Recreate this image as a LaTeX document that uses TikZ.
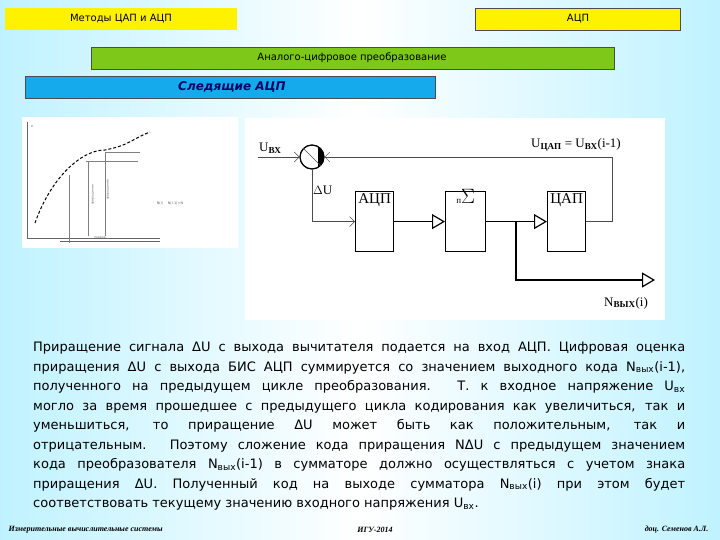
\documentclass[tikz,border=0pt]{standalone}
\usepackage{fontspec}
\setmainfont{DejaVu Sans}
\newfontfamily\serfont{Liberation Serif}
\usetikzlibrary{arrows.meta}
\definecolor{hgreen}{RGB}{125,200,25}
\definecolor{hblue}{RGB}{20,170,235}
\begin{document}
\begin{tikzpicture}[x=1pt,y=-1pt,
  blk/.style={draw,line width=1.2pt,fill=white,minimum width=38pt,minimum height=60pt,anchor=north west,inner sep=0pt},
  thin/.style={draw=black!70,line width=0.5pt},
  thick/.style={line width=1.6pt},
  tri/.style={-{Triangle[open,length=13pt,width=15pt,line width=1.2pt]}},
  lbl/.style={font=\serfont\fontsize{13}{13}\selectfont,inner sep=1pt},
  blbl/.style={font=\serfont\fontsize{15}{15}\selectfont,inner sep=2pt}]
\useasboundingbox (0,0) rectangle (720,540);
\shade[left color=blue!20!cyan!25,right color=blue!20!cyan!25,middle color=white] (0,0) rectangle (720,540);
% headers
\fill[yellow] (5,8) rectangle (237,30);
\node[font=\fontsize{10}{10}\selectfont] (h1) at (121,19) {Методы ЦАП и АЦП};
\filldraw[fill=yellow,draw=black!70] (475,8) rectangle (680,30);
\node[font=\fontsize{10}{10}\selectfont] (h2) at (578,19) {АЦП};
\filldraw[fill=hgreen,draw=black!70] (91,47) rectangle (614,69);
\node[font=\fontsize{10}{10}\selectfont] (h3) at (352,58) {Аналого-цифровое преобразование};
\filldraw[fill=hblue,draw=black!70] (25,76) rectangle (435,98);
\node[font=\bfseries\itshape\fontsize{12}{12}\selectfont,text=blue!40!black] (h4) at (232,87) {Следящие АЦП};
% left graph
\fill[white] (22,117) rectangle (238,248);
\draw[black!60,line width=0.4pt] (27,122) -- (27,238) -- (160,238);
\draw[black!60,line width=0.4pt] (60,241) -- (160,241);
\draw[line width=1pt,densely dashed] (35,223) .. controls (50,180) and (80,150) .. (105,150) .. controls (130,145) and (130,140) .. (150,132);
\draw[black!50,line width=0.4pt] (105,152) -- (140,152) (86,161) -- (138,161);
\draw[black!50,line width=0.4pt] (69,175) -- (69,243) (105,152) -- (105,236) (88,161) -- (88,236);
\node[font=\fontsize{3}{3}\selectfont,text=black!60] (g1) at (32,126) {U};
\node[font=\fontsize{3.5}{3.5}\selectfont,text=black!60] (g2) at (170,203) {N(i) \quad N(i-1)+N};
\node[font=\fontsize{3}{3}\selectfont,text=black!60,rotate=90] (g3) at (93,195) {приращение};
\node[font=\fontsize{3}{3}\selectfont,text=black!60,rotate=90] (g4) at (108,190) {приращение};
\node[font=\fontsize{3}{3}\selectfont,text=black!60] (g5) at (100,238) {период};
% right diagram
\fill[white] (245,118) rectangle (665,320);
\node[draw,circle,minimum size=24pt,line width=1pt,fill=white] (sum) at (312,157) {};
\begin{scope}
\clip (sum.center) circle[radius=12pt];
\fill[black] (318,140) -- (330,140) -- (330,175) -- (318,175) -- cycle;
\end{scope}
\draw[line width=1pt] (sum) circle[radius=12pt];
\draw[thin] (sum.north west) -- (sum.south east);
\coordinate (in) at (258,157);
\node[lbl,anchor=south west] (uin) at (258,155) {U\textsubscript{\bfseries ВХ}};
\node[blk] (adc) at (355,191) {};
\node[blbl,anchor=north] at (adc.north) {АЦП};
\node[blk,minimum width=40pt] (sig) at (445,191) {};
\node[lbl,anchor=north] at ([yshift=3pt]sig.north) {\fontsize{9}{9}\selectfont п\fontsize{20}{20}\selectfont$\Sigma$};
\node[blk] (dac) at (547,191) {};
\node[blbl,anchor=north] at (dac.north) {ЦАП};
\coordinate (j) at (516,222);
\coordinate (nout) at (655,280);
\coordinate (fb) at (612,157);
\draw[thin,-{Straight Barb[length=5pt]}] (in) -- (sum);
\draw[thin,-{Straight Barb[length=5pt]}] (dac.east) -| (fb) -- (sum.east);
\draw[thin,-{Straight Barb[length=5pt]}] (sum.south) |- (adc.west);
\node[lbl,anchor=west] (du) at (312,190) {$\Delta$U};
\draw[thick,tri] (adc.east) -- (sig.west);
\draw[thick,tri] (sig.east) -- (dac.west);
\draw[thick,tri] (j) |- (nout);
\node[lbl] (udac) at (576,145) {U\textsubscript{\bfseries ЦАП} = U\textsubscript{\bfseries ВХ}(i-1)};
\node[lbl] (nlab) at (626,303) {N\textsubscript{\bfseries ВЫХ}(i)};
% paragraph
\node[anchor=north west,inner sep=0pt,text width=652pt,font=\fontsize{13}{19.5}\selectfont,align=justify] (par) at (33,342) {Приращение сигнала ΔU с выхода вычитателя подается на вход АЦП. Цифровая оценка\linebreak
приращения ΔU с выхода БИС АЦП суммируется со значением выходного кода N\textsubscript{вых}(i-1),\linebreak
полученного на предыдущем цикле преобразования. Т. к входное напряжение U\textsubscript{вх}\linebreak
могло за время прошедшее с предыдущего цикла кодирования как увеличиться, так и\linebreak
уменьшиться, то приращение ΔU может быть как положительным, так и\linebreak
отрицательным. Поэтому сложение кода приращения NΔU с предыдущем значением\linebreak
кода преобразователя N\textsubscript{вых}(i-1) в сумматоре должно осуществляться с учетом знака\linebreak
приращения ΔU. Полученный код на выходе сумматора N\textsubscript{вых}(i) при этом будет\linebreak
соответствовать текущему значению входного напряжения U\textsubscript{вх}.};
% footer
\node[anchor=west,font=\serfont\bfseries\itshape\fontsize{8}{8}\selectfont] (f1) at (5,530) {Измерительные вычислительные системы};
\node[font=\serfont\bfseries\itshape\fontsize{8}{8}\selectfont] (f2) at (375,530) {ИГУ-2014};
\node[anchor=east,font=\serfont\bfseries\itshape\fontsize{8}{8}\selectfont] (f3) at (712,530) {доц. Семенов А.Л.};
\end{tikzpicture}
\end{document}
